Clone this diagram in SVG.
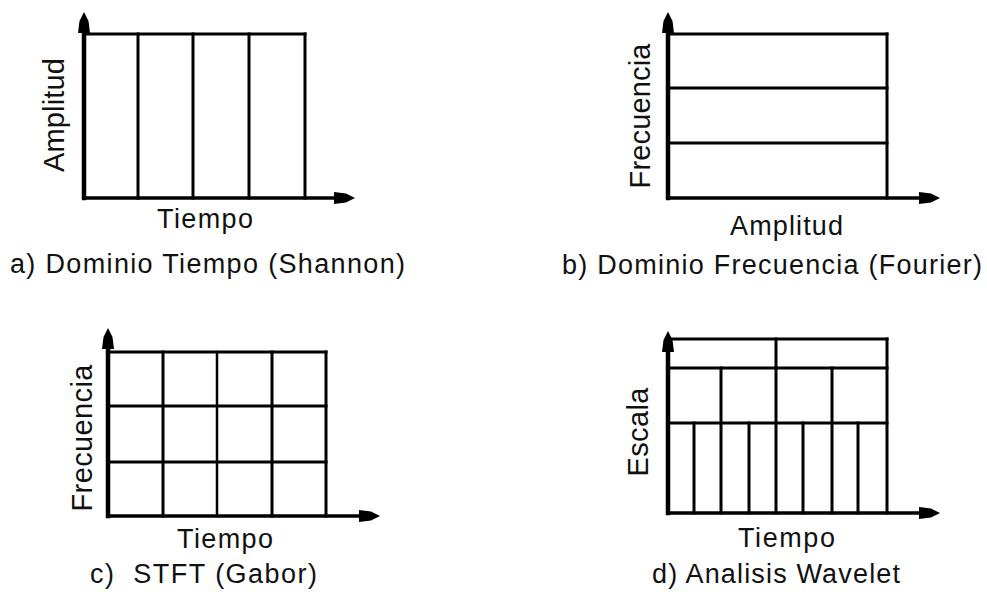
<svg xmlns="http://www.w3.org/2000/svg" width="987" height="606" viewBox="0 0 987 606">
<style>
.g line{stroke:#000;stroke-width:3;stroke-linecap:square}
.g line.ax{stroke-width:4.5}
.g line.bx{stroke-width:3.5;stroke-linecap:butt}
.t{font-family:"Liberation Sans",Arial,sans-serif;font-size:27px;fill:#111}
.r{font-family:"Liberation Sans",Arial,sans-serif;font-size:29px;fill:#111;text-anchor:middle}
</style>
<defs>
<path id="ah" d="M-21,-6 L-9,-4.5 L0,0 L-9,4.5 L-21,6 Z" fill="#000"/>
</defs>
<rect width="987" height="606" fill="#fff"/>

<g id="panel-a" class="g">
<line class="bx" x1="84" y1="198" x2="345" y2="198"/>
<use href="#ah" transform="translate(355,198)"/>
<line class="ax" x1="84" y1="198" x2="84" y2="24"/>
<use href="#ah" transform="translate(84,12) rotate(-90)"/>
<line x1="84" y1="34" x2="305" y2="34"/>
<line x1="305" y1="34" x2="305" y2="198"/>
<line x1="138" y1="34" x2="138" y2="198"/>
<line x1="193" y1="34" x2="193" y2="198"/>
<line x1="249" y1="34" x2="249" y2="198"/>
<text class="r" transform="translate(64,115) rotate(-90)" textLength="114">Amplitud</text>
<text class="t" x="157" y="228" textLength="96">Tiempo</text>
<text class="t" x="10" y="273" textLength="395">a) Dominio Tiempo (Shannon)</text>
</g>

<g id="panel-b" class="g">
<line class="bx" x1="668" y1="198" x2="930" y2="198"/>
<use href="#ah" transform="translate(940,198)"/>
<line class="ax" x1="668" y1="198" x2="668" y2="24"/>
<use href="#ah" transform="translate(668,12) rotate(-90)"/>
<line x1="668" y1="34" x2="887" y2="34"/>
<line x1="887" y1="34" x2="887" y2="198"/>
<line x1="668" y1="88" x2="887" y2="88"/>
<line x1="668" y1="143" x2="887" y2="143"/>
<text class="r" transform="translate(650,116) rotate(-90)" textLength="145">Frecuencia</text>
<text class="t" x="730" y="235" textLength="113">Amplitud</text>
<text class="t" x="562" y="274" textLength="420">b) Dominio Frecuencia (Fourier)</text>
</g>

<g id="panel-c" class="g">
<line class="bx" x1="108" y1="516" x2="370" y2="516"/>
<use href="#ah" transform="translate(380,516)"/>
<line class="ax" x1="108" y1="516" x2="108" y2="340"/>
<use href="#ah" transform="translate(108,328) rotate(-90)"/>
<line x1="108" y1="352" x2="326" y2="352"/>
<line x1="326" y1="352" x2="326" y2="516"/>
<line x1="108" y1="406" x2="326" y2="406"/>
<line x1="108" y1="462" x2="326" y2="462"/>
<line x1="163" y1="352" x2="163" y2="516"/>
<line x1="217" y1="352" x2="217" y2="516" style="stroke-width:2.5"/>
<line x1="272" y1="352" x2="272" y2="516"/>
<text class="r" transform="translate(92,438) rotate(-90)" textLength="147">Frecuencia</text>
<text class="t" x="177" y="548" textLength="96">Tiempo</text>
<text class="t" x="90" y="583" textLength="227" xml:space="preserve">c)  STFT (Gabor)</text>
</g>

<g id="panel-d" class="g">
<line class="bx" x1="668" y1="513" x2="930" y2="513"/>
<use href="#ah" transform="translate(940,513)"/>
<line class="ax" x1="668" y1="513" x2="668" y2="343"/>
<use href="#ah" transform="translate(668,331) rotate(-90)"/>
<line x1="668" y1="339" x2="887" y2="339"/>
<line x1="887" y1="339" x2="887" y2="513"/>
<line x1="668" y1="368" x2="887" y2="368"/>
<line x1="668" y1="423" x2="887" y2="423"/>
<line x1="776" y1="339" x2="776" y2="513"/>
<line x1="721" y1="368" x2="721" y2="513"/>
<line x1="832" y1="368" x2="832" y2="513"/>
<line x1="694" y1="423" x2="694" y2="513"/>
<line x1="749" y1="423" x2="749" y2="513"/>
<line x1="803" y1="423" x2="803" y2="513"/>
<line x1="858" y1="423" x2="858" y2="513"/>
<text class="r" transform="translate(648,432) rotate(-90)" textLength="89">Escala</text>
<text class="t" x="738" y="547" textLength="97">Tiempo</text>
<text class="t" x="652" y="583" textLength="248">d) Analisis Wavelet</text>
</g>
</svg>
